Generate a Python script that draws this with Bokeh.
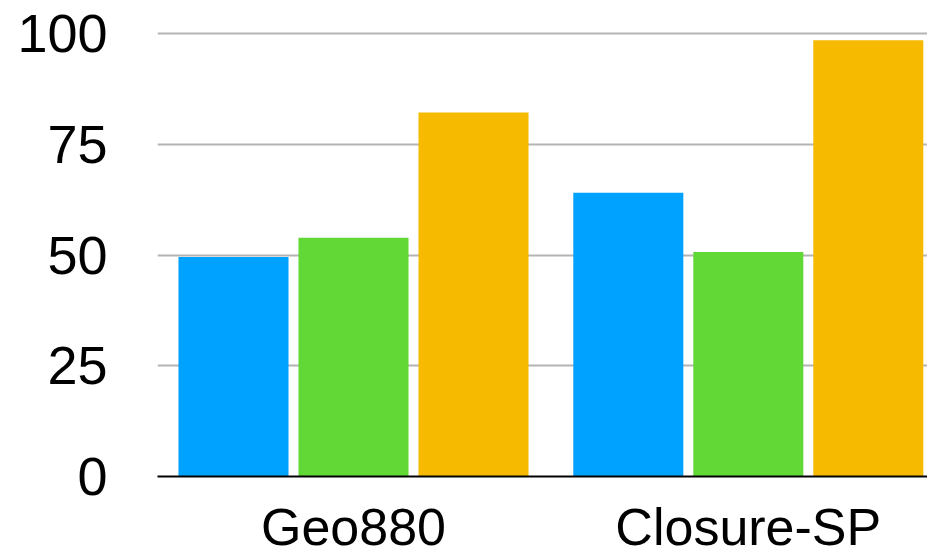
from bokeh.plotting import figure
from bokeh.models import ColumnDataSource, Range1d, FixedTicker
from bokeh.embed import file_html
from bokeh.resources import INLINE

# Benchmark scores per dataset, one series per method
datasets = ["Geo880", "Closure-SP"]
series_colors = ["#00A2FF", "#61D836", "#F6BA00"]
method_a = [49.6, 64.1]
method_b = [53.9, 50.7]
method_c = [82.2, 98.5]
y_ticks = [0, 25, 50, 75, 100]

# bar slots: one unit per bar, with a wider step between dataset groups
group_step = 3.29
bar_width = 0.917

xs, tops, colors = [], [], []
for g in range(len(datasets)):
    for i, vals in enumerate([method_a, method_b, method_c]):
        xs.append(g * group_step + i)
        tops.append(vals[g])
        colors.append(series_colors[i])

src = ColumnDataSource(dict(x=xs, top=tops, color=colors))
group_centers = [g * group_step + 1 for g in range(len(datasets))]

p = figure(
    width=927, height=558,
    x_range=Range1d(-0.6333, 5.7833),
    y_range=Range1d(0, 100.5),
    output_backend="svg", toolbar_location=None,
    min_border_left=157, min_border_right=0,
    min_border_top=31, min_border_bottom=82,
)
p.outline_line_color = None
p.background_fill_color = "white"
p.border_fill_color = "white"

p.vbar(x="x", top="top", bottom=0, width=bar_width, fill_color="color",
       line_color=None, source=src)

# y axis: labels only, grid lines across the plot
p.yaxis.ticker = FixedTicker(ticks=y_ticks)
p.yaxis.axis_line_color = None
p.yaxis.major_tick_line_color = None
p.yaxis.major_tick_out = 0
p.yaxis.major_tick_in = 0
p.yaxis.minor_tick_line_color = None
p.yaxis.major_label_standoff = 50
p.yaxis.major_label_text_font = "Liberation Sans"
p.yaxis.major_label_text_font_size = "54px"
p.yaxis.major_label_text_color = "black"

p.ygrid.ticker = FixedTicker(ticks=y_ticks)
p.ygrid.grid_line_color = "#b4b4b4"
p.ygrid.grid_line_width = 2
p.xgrid.grid_line_color = None

# x axis: baseline with dataset names under each group
p.xaxis.ticker = FixedTicker(ticks=group_centers)
p.xaxis.major_label_overrides = {c: name for c, name in zip(group_centers, datasets)}
p.xaxis.axis_line_color = "black"
p.xaxis.axis_line_width = 2
p.xaxis.major_tick_line_color = None
p.xaxis.major_tick_out = 0
p.xaxis.major_tick_in = 0
p.xaxis.minor_tick_line_color = None
p.xaxis.major_label_standoff = 21
p.xaxis.major_label_text_baseline = "hanging"
p.xaxis.major_label_text_font = "Liberation Sans"
p.xaxis.major_label_text_font_size = "52px"
p.xaxis.major_label_text_color = "black"

open("out.html", "w").write(file_html(p, INLINE))
